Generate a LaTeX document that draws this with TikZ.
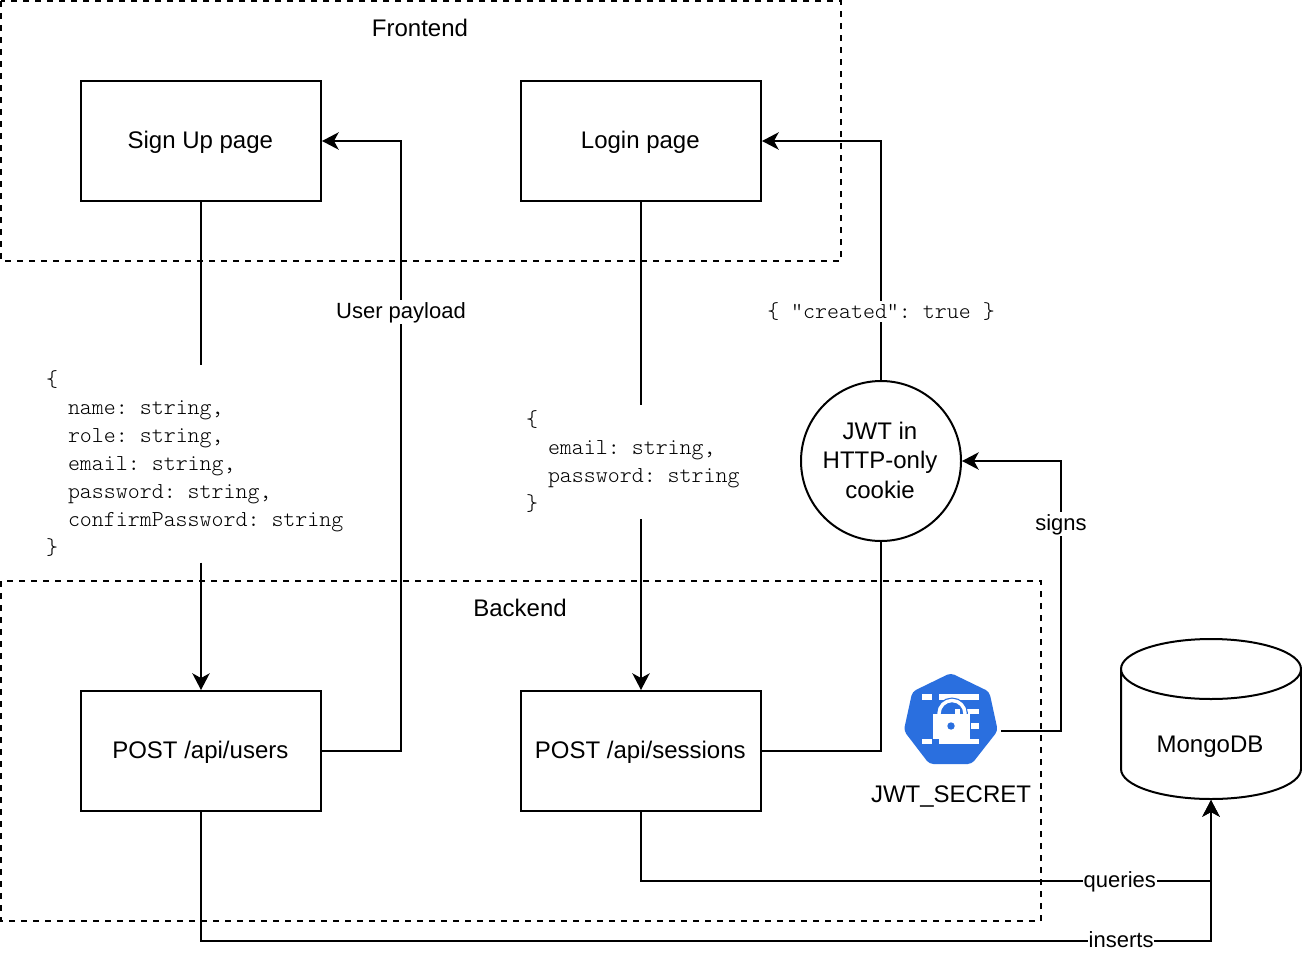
\documentclass[tikz,border=0pt]{standalone}
\usepackage{fontspec}
\setmainfont{Liberation Sans}
\newfontfamily\cf{Latin Modern Mono Light}
\usetikzlibrary{arrows.meta,calc}
\definecolor{kblue}{HTML}{2A6FDF}
\newcommand\msp{\hspace*{9pt}}
\newcommand\ind{\hspace*{16.5pt}}
\tikzset{
  pageframe/.style={dash pattern=on 4.5pt off 4.5pt},
  box/.style={draw,minimum width=180pt,minimum height=90pt,inner sep=0pt,text height=14pt,text depth=3.5pt,font=\fontsize{18}{21}\selectfont},
  round/.style={draw,circle,minimum size=120pt,inner sep=0pt,align=center,font=\fontsize{18}{22}\selectfont},
  title/.style={inner sep=0pt,font=\fontsize{18}{21}\selectfont},
  lab/.style={fill=white,inner sep=0.6pt,text height=13.5pt,text depth=3.5pt,font=\fontsize{16.5}{20}\selectfont},
  code/.style={fill=white,inner sep=0pt,align=left,font=\cf\fontsize{17.1}{21}\selectfont},
  codelab/.style={fill=white,inner sep=1pt,font=\cf\fontsize{17.1}{21}\selectfont},
  arr/.style={-{Stealth[length=12.5pt,width=13pt,inset=3.5pt]}},
}
\begin{document}
\begin{tikzpicture}[x=0.75pt,y=-0.75pt,line width=1.5pt]
\useasboundingbox (0,0) rectangle (1302,960);
\fill[white] (0,0) rectangle (1302,960);
% groups
\draw[pageframe] (1,1) rectangle (841,261);
\draw[pageframe] (1,581) rectangle (1041,921);
\node[title] (fe) at (420,28) {Frontend};
\node[title] (be) at (520,608) {Backend};
% boxes
\node[box] (signup) at (201,141) {\hspace*{-1pt}Sign Up page};
\node[box] (login) at (641,141) {\hspace*{-1pt}Login page};
\node[box] (users) at (201,751) {\hspace*{-1pt}POST /api/users};
\node[box] (sessions) at (641,751) {\hspace*{-1pt}POST /api/sessions};
\node[round] (jwt) at (881,461) {\hspace*{-1.5pt}JWT in\\\hspace*{-1.5pt}HTTP-only\\\hspace*{-1.5pt}cookie\rule[-1.5pt]{0pt}{1pt}};
% cylinder
\node[minimum width=135pt,minimum height=120pt,inner sep=0pt] (db) at (1211,719) {};
\draw[fill=white] (1121,669) arc[start angle=180,end angle=360,x radius=90,y radius=-30]
  -- (1301,769) arc[start angle=0,end angle=180,x radius=90,y radius=30] -- cycle;
\draw (1121,669) arc[start angle=180,end angle=360,x radius=90,y radius=30];
\node[title] (dbtext) at (1210,747) {MongoDB};
% icon
\node[minimum width=70pt,minimum height=67pt,inner sep=0pt] (secret) at (951,719) {};
\fill[kblue,rounded corners=3pt] (950.7,673) -- (989.3,691.7) -- (997.8,730.7) -- (971.7,764) -- (929.3,764) -- (903.8,730.7) -- (912.3,691.7) -- cycle;
\begin{scope}[white]
\fill (922.3,694.3) rectangle (932.3,699.7);
\fill (939.3,694.3) rectangle (979.3,699.7);
\fill (966,709) rectangle (979.3,714.3);
\fill (971,723.3) rectangle (979.3,729);
\fill (922.3,739) rectangle (932.3,743.7);
\fill (939.3,739) rectangle (979.3,743.7);
\draw[kblue,line width=4.4pt] (939,715) -- (939,713.5) arc[start angle=180,end angle=360,radius=13] -- (965,715);
\fill (954.5,709) rectangle (959.5,714.3);
\draw[line width=2.6pt] (939,715) -- (939,713.5) arc[start angle=180,end angle=360,radius=13] -- (965,715);
\fill (932.7,714.3) rectangle (970,738.7);
\end{scope}
\fill[kblue] (951,726) circle (3.7);
\node[title] (secretname) at (951,796) {JWT\_SECRET};
\coordinate (secretout) at (1001,731);
% code
\node[code,text width=232.5pt,minimum height=146.5pt] (cu) at (201,464) {\{\\
\ind name:\msp string,\\
\ind role:\msp string,\\
\ind email:\msp string,\\
\ind password:\msp string,\\
\ind confirmPassword:\msp string\\
\}};
\node[code,text width=172.5pt,minimum height=84pt] (cl) at (641,462) {\{\\
\ind email:\msp string,\\
\ind password:\msp string\\
\}};
% connectors
\draw (signup) -- (cu);
\draw[arr] (cu) -- (users);
\draw (login) -- (cl);
\draw[arr] (cl) -- (sessions);
\draw[arr] (users.east) -- (401,751) -- node[pos=0.72,lab] (up) {User payload} (401,141) -- (signup.east);
\draw (sessions.east) -- (881,751) -- (jwt.south);
\draw[arr] (jwt.north) -- node[pos=0.286,codelab] (cr) {\{\msp"created":\msp true\msp\}} (881,141) -- (login.east);
\draw[arr] (secretout) -- (1061,731) -- node[pos=0.768,lab] (sg) {signs} (1061,461) -- (jwt.east);
\draw[arr] (sessions.south) -- (641,881) -- node[pos=0.84,lab] (qu) {queries} (1211,881) -- (db.south);
\draw[arr] (users.south) -- (201,941) -- node[pos=0.911,lab] (ins) {inserts} (1211,941) -- (db.south);
\end{tikzpicture}
\end{document}
